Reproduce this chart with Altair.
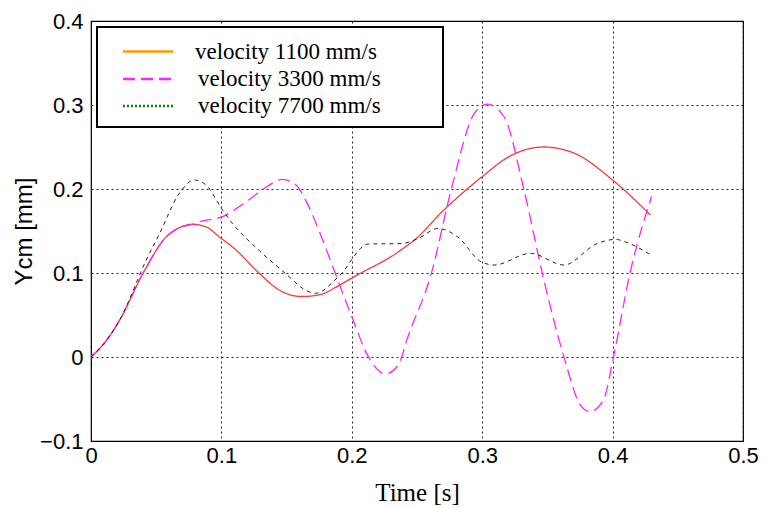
import altair as alt
import pandas as pd

series_names = ["velocity 1100 mm/s", "velocity 3300 mm/s", "velocity 7700 mm/s"]

t_1100 = [0, 0.012, 0.022, 0.040, 0.0577, 0.0678, 0.0777, 0.088, 0.100, 0.1085, 0.1288, 0.144,
          0.1616, 0.175, 0.190, 0.200, 0.2355, 0.2508, 0.268, 0.300, 0.320, 0.3473, 0.370, 0.400, 0.429]
y_1100 = [0, 0.020, 0.044, 0.100, 0.143, 0.154, 0.158, 0.155, 0.141, 0.131, 0.100, 0.080,
          0.072, 0.074, 0.085, 0.094, 0.125, 0.143, 0.171, 0.2147, 0.238, 0.250, 0.243, 0.2107, 0.169]

t_3300 = [0, 0.012, 0.022, 0.040, 0.0577, 0.0678, 0.0777, 0.083, 0.1009, 0.121, 0.135, 0.1466,
          0.157, 0.167, 0.177, 0.1873, 0.200, 0.2127, 0.2256, 0.2355, 0.243, 0.261, 0.2762, 0.294,
          0.3041, 0.3168, 0.332, 0.3473, 0.3626, 0.3752, 0.3824, 0.393, 0.4007, 0.4133, 0.4299]
y_3300 = [0, 0.020, 0.044, 0.100, 0.143, 0.154, 0.158, 0.161, 0.167, 0.187, 0.203, 0.2115,
          0.205, 0.179, 0.142, 0.0996, 0.048, 0.0004, -0.020, -0.010, 0.024, 0.0996, 0.199, 0.290,
          0.301, 0.286, 0.199, 0.0917, 0.0004, -0.057, -0.065, -0.051, 0.0004, 0.0996, 0.191]

t_7700 = [0, 0.012, 0.022, 0.0424, 0.0526, 0.0678, 0.0793, 0.088, 0.1009, 0.1085, 0.1288, 0.149,
          0.1644, 0.172, 0.1898, 0.2127, 0.238, 0.2508, 0.266, 0.2812, 0.299, 0.3092, 0.337, 0.3626,
          0.388, 0.402, 0.413, 0.4283]
y_7700 = [0, 0.020, 0.044, 0.1155, 0.147, 0.195, 0.2107, 0.205, 0.175, 0.159, 0.127, 0.0996,
          0.0798, 0.0758, 0.0956, 0.1345, 0.135, 0.141, 0.153, 0.143, 0.1135, 0.1095, 0.1234, 0.1095,
          0.135, 0.140, 0.135, 0.1226]

x_ticks = [0, 0.1, 0.2, 0.3, 0.4, 0.5]
y_ticks = [-0.1, 0, 0.1, 0.2, 0.3, 0.4]

df1 = pd.DataFrame({"t": t_1100, "y": y_1100, "series": series_names[0]})
df2 = pd.DataFrame({"t": t_3300, "y": y_3300, "series": series_names[1]})
df3 = pd.DataFrame({"t": t_7700, "y": y_7700, "series": series_names[2]})

xs = alt.Scale(domain=[0, 0.5], nice=False, zero=False)
ys = alt.Scale(domain=[-0.1, 0.4], nice=False, zero=False)

xax = alt.Axis(values=x_ticks, format=".1~f", title="Time [s]", labelFont="Liberation Sans",
               labelFontSize=22, labelColor="#000", titleFont="Liberation Serif", titleFontSize=25,
               titleFontWeight="normal", titleColor="#000", titlePadding=14, labelPadding=4,
               ticks=False, domain=False, grid=True, gridColor="#000", gridDash=[2, 3],
               gridOpacity=0.85, labelFlush=False)
yax = alt.Axis(values=y_ticks, format=".1~f", title="Ycm [mm]", labelFont="Liberation Sans",
               labelFontSize=22, labelColor="#000", titleFont="Liberation Sans", titleFontSize=24,
               titleFontWeight="normal", titleColor="#000", titlePadding=3, labelPadding=8,
               ticks=False, domain=False, grid=True, gridColor="#000", gridDash=[2, 3],
               gridOpacity=0.85, labelFlush=False)


def line(df, color, dash, width):
    return alt.Chart(df).mark_line(color=color, strokeDash=dash, strokeWidth=width,
                                   interpolate="monotone", clip=True).encode(
        x=alt.X("t:Q", scale=xs, axis=xax),
        y=alt.Y("y:Q", scale=ys, axis=yax),
    )


l1 = line(df1, "#f03c3c", [1, 0], 1.3)
l2 = line(df2, "#ff22ff", [12, 6], 1.3)
l3 = line(df3, "#222222", [4, 4], 1.0)

# manual legend (styled as in the reference)
box = alt.Chart(pd.DataFrame({"a": [0]})).mark_rect(fill="white", stroke="black", strokeWidth=2).encode(
    x=alt.value(6), x2=alt.value(352), y=alt.value(6), y2=alt.value(106))

leg_colors = ["#ff9900", "#ff22ff", "#008000"]
leg_dash = [[1, 0], [12, 6], [2, 2]]
leg_rows = [30.5, 58, 85]
leg_textx = [104, 107, 107]
legend_layers = []
for name, c, d, yy, tx in zip(series_names, leg_colors, leg_dash, leg_rows, leg_textx):
    ld = pd.DataFrame({"label": [name]})
    legend_layers.append(alt.Chart(ld).mark_rule(color=c, strokeDash=d, strokeWidth=2.5).encode(
        x=alt.value(32), x2=alt.value(82), y=alt.value(yy)))
    legend_layers.append(alt.Chart(ld).mark_text(align="left", baseline="middle", font="Liberation Serif",
                                                 fontSize=23, color="#000").encode(
        x=alt.value(tx), y=alt.value(yy), text="label:N"))

chart = alt.layer(l1, l2, l3, box, *legend_layers).properties(
    width=652, height=420,
    autosize=alt.AutoSizeParams(type="none"),
    padding={"left": 83, "top": 13, "right": 15, "bottom": 66},
).configure(background="white").configure_view(stroke="black", strokeWidth=1.2)

chart.save("out.html", embed_options={"renderer": "svg", "actions": False})
